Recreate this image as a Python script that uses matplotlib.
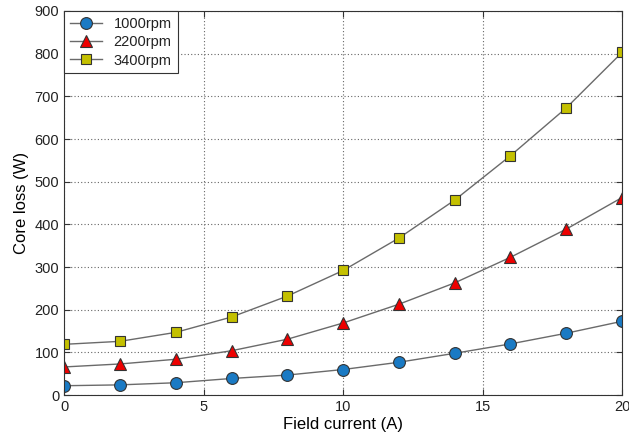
import numpy as np
import matplotlib
matplotlib.use("Agg")
import matplotlib.pyplot as plt

"core loss vs field current at three speeds"

field_current = [0, 2, 4, 6, 8, 10, 12, 14, 16, 18, 20]
loss_1000rpm = [22, 24, 29, 39, 47, 60, 77, 98, 120, 145, 173]
loss_2200rpm = [66, 73, 84, 104, 131, 169, 213, 263, 323, 389, 463]
loss_3400rpm = [119, 126, 147, 183, 232, 292, 368, 457, 561, 673, 803]

plt.rcParams["font.family"] = ["Liberation Sans", "DejaVu Sans"]
plt.rcParams["text.color"] = "#222222"
plt.rcParams["xtick.labelcolor"] = "#222222"
plt.rcParams["ytick.labelcolor"] = "#222222"

fig = plt.figure(figsize=(6.29, 4.40), dpi=100)
ax = fig.add_axes([0.102, 0.102, 0.887, 0.873])

line_kw = dict(color="#6a6a6a", lw=1.0, markeredgecolor="#333333",
               markeredgewidth=0.8)
ax.plot(field_current, loss_1000rpm, marker="o", markerfacecolor="#1a7ac4",
        markersize=8.5, label="1000rpm", **line_kw)
ax.plot(field_current, loss_2200rpm, marker="^", markerfacecolor="#ee0000",
        markersize=8.5, label="2200rpm", **line_kw)
ax.plot(field_current, loss_3400rpm, marker="s", markerfacecolor="#c4c000",
        markersize=7.5, label="3400rpm", **line_kw)

ax.set_xlim(0, 20)
ax.set_ylim(0, 900)
ax.set_xticks([0, 5, 10, 15, 20])
ax.set_yticks(np.arange(0, 901, 100))
ax.tick_params(direction="in", labelsize=10.5, length=4, top=True, right=True,
               color="#333333")
ax.grid(True, ls=(0, (1, 2)), color="#666666", lw=0.8)
for s in ax.spines.values():
    s.set_color("#333333")
    s.set_linewidth(0.8)

ax.set_xlabel("Field current (A)", fontsize=12, labelpad=2)
ax.set_ylabel("Core loss (W)", fontsize=12, labelpad=4)

leg = ax.legend(loc="upper left", fontsize=10.5, fancybox=False, framealpha=1,
                edgecolor="#333333", borderaxespad=0.0, handlelength=2.2,
                labelspacing=0.3, borderpad=0.4)
leg.get_frame().set_linewidth(0.8)

fig.savefig("out.png", dpi=100)
plt.close(fig)
